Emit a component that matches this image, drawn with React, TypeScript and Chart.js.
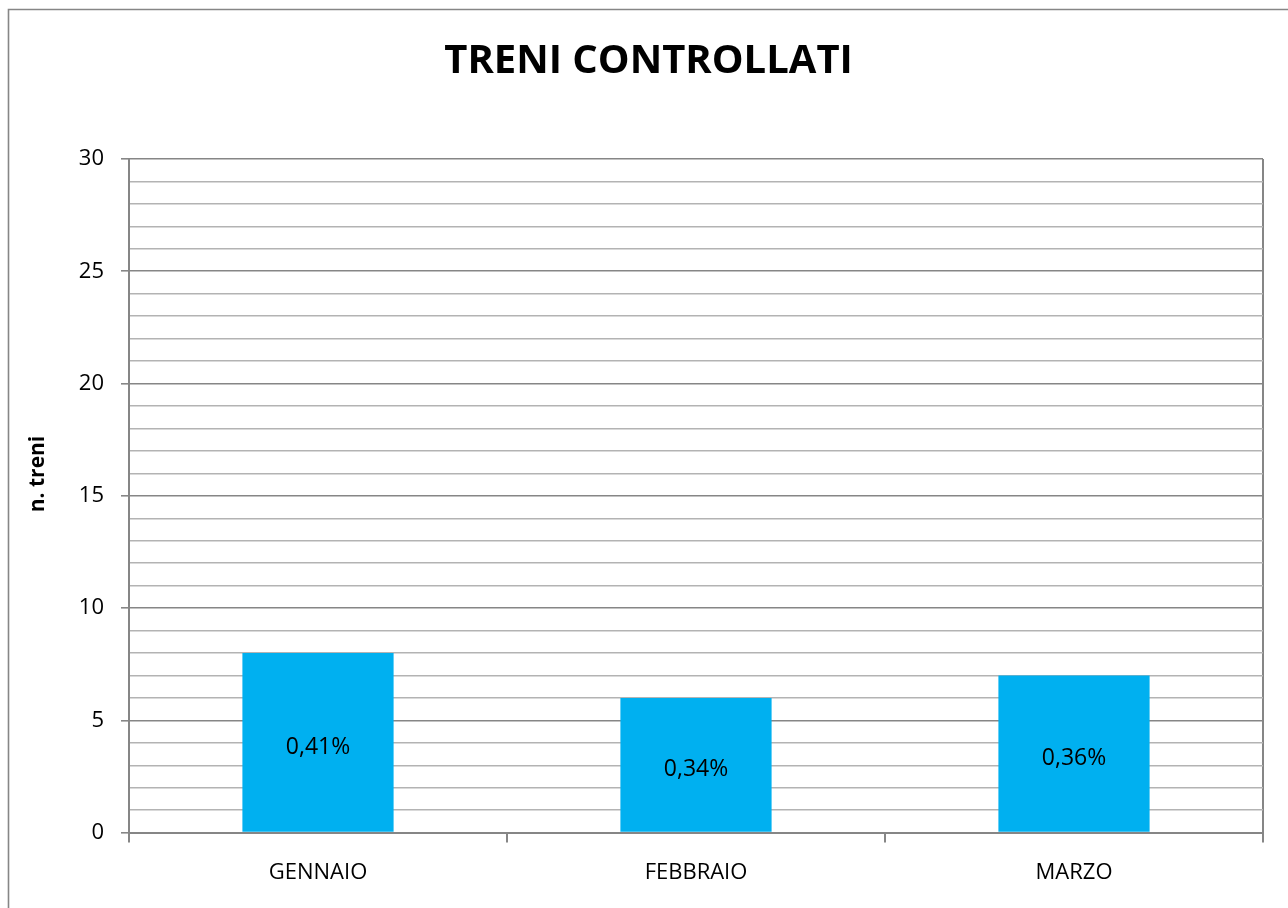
import React, { useEffect, useRef } from "react";
import { Chart, registerables } from "chart.js";

Chart.register(...registerables);

const categories = ["GENNAIO", "FEBBRAIO", "MARZO"];
const trainCounts = [8, 6, 7];
const percentLabels = ["0,41%", "0,34%", "0,36%"];
const chartTitle = "TRENI CONTROLLATI";
const yAxisTitle = "n. treni";
const yMin = 0;
const yMax = 30;
const yStep = 1;
const yLabelEvery = 5;

const FONT = "'Open Sans', 'Noto Sans', sans-serif";
const MAJOR = "#868686";
const MINOR = "#b3b3b3";

const framePlugin = {
  id: "frame",
  beforeDraw(chart: any) {
    const ctx = chart.ctx;
    ctx.save();
    ctx.strokeStyle = MAJOR;
    ctx.lineWidth = 1.6;
    ctx.beginPath();
    ctx.moveTo(1.5, chart.height + 5);
    ctx.lineTo(1.5, 1.5);
    ctx.lineTo(chart.width + 5, 1.5);
    ctx.stroke();
    ctx.restore();
  },
};

const valueLabelPlugin = {
  id: "valueLabels",
  afterDatasetsDraw(chart: any) {
    const ctx = chart.ctx;
    const meta = chart.getDatasetMeta(0);
    ctx.save();
    ctx.font = `23px ${FONT}`;
    ctx.fillStyle = "#000";
    ctx.textAlign = "center";
    ctx.textBaseline = "middle";
    meta.data.forEach((bar: any, i: number) => {
      const { x, y, base } = bar.getProps(["x", "y", "base"], true);
      ctx.fillText(percentLabels[i], x, (y + base) / 2 + 5);
    });
    ctx.restore();
  },
};

export default function App() {
  const ref = useRef<HTMLCanvasElement>(null);

  useEffect(() => {
    if (!ref.current) return;
    const chart = new Chart(ref.current, {
      type: "bar",
      data: {
        labels: categories,
        datasets: [
          {
            data: trainCounts,
            backgroundColor: "#00B0F0",
            borderWidth: 0,
            barPercentage: 0.4,
            categoryPercentage: 1,
          },
        ],
      },
      options: {
        responsive: false,
        animation: false,
        layout: { padding: { left: 27, right: 27, top: 0, bottom: 15 } },
        plugins: {
          legend: { display: false },
          tooltip: { enabled: false },
          title: {
            display: true,
            text: chartTitle,
            color: "#000",
            font: { family: FONT, size: 40, weight: "bold" },
            padding: { top: 30, bottom: 73 },
          },
        },
        scales: {
          x: {
            offset: true,
            border: { display: true, color: MAJOR, width: 2 },
            grid: {
              display: true,
              offset: true,
              drawOnChartArea: true,
              drawTicks: true,
              tickLength: 10,
              lineWidth: 2,
              color: (ctx: any) => (ctx.type === "scale" ? MAJOR : "rgba(0,0,0,0)"),
              tickColor: MAJOR,
            },
            ticks: {
              color: "#000",
              font: { family: FONT, size: 22 },
              padding: 17,
              maxRotation: 0,
            },
          },
          y: {
            min: yMin,
            max: yMax,
            afterFit: (scale: any) => {
              scale.width = 95;
            },
            border: { display: true, color: MAJOR, width: 2 },
            grid: {
              drawTicks: true,
              tickLength: 8,
              color: (ctx: any) =>
                ctx.tick && ctx.tick.value % yLabelEvery === 0 ? MAJOR : MINOR,
              lineWidth: (ctx: any) =>
                ctx.tick && ctx.tick.value % yLabelEvery === 0 ? 1.6 : 1.4,
              tickColor: (ctx: any) =>
                ctx.tick && ctx.tick.value % yLabelEvery === 0 ? MAJOR : "rgba(0,0,0,0)",
            },
            ticks: {
              stepSize: yStep,
              autoSkip: false,
              color: "#000",
              font: { family: FONT, size: 22 },
              padding: 17,
              callback: (v: any) => (Number(v) % yLabelEvery === 0 ? String(v) : ""),
            },
            title: {
              display: true,
              text: "        " + yAxisTitle,
              color: "#000",
              font: { family: FONT, size: 21, weight: "bold", lineHeight: 0.4 },
              padding: { top: 0, bottom: 0 },
            },
          },
        },
      },
      plugins: [framePlugin, valueLabelPlugin],
    });
    return () => chart.destroy();
  }, []);

  return (
    <div style={{ position: "fixed", left: 7, top: 8, background: "#fff" }}>
      <canvas ref={ref} width={1283} height={910} style={{ display: "block" }} />
    </div>
  );
}
